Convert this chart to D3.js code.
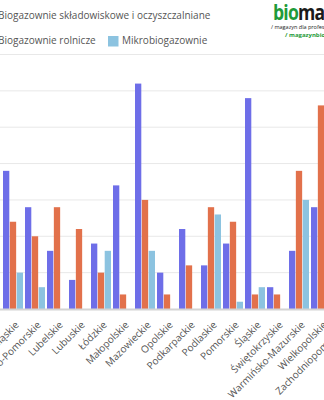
<!DOCTYPE html>
<html><head><meta charset="utf-8">
<script src="https://cdn.jsdelivr.net/npm/d3@7"></script>
<style>body{margin:0;background:#fff;overflow:hidden}svg{display:block;font-family:"Open Sans",sans-serif}</style>
</head><body>
<script>
const categories = ["Dolnośląskie","Kujawsko-Pomorskie","Lubelskie","Lubuskie","Łódzkie","Małopolskie","Mazowieckie","Opolskie","Podkarpackie","Podlaskie","Pomorskie","Śląskie","Świętokrzyskie","Warmińsko-Mazurskie","Wielkopolskie","Zachodniopomorskie"];
const seriesNames = ["Biogazownie składowiskowe i oczyszczalniane","Biogazownie rolnicze","Mikrobiogazownie"];
const skladowiskowe = [19,14,8,4,9,17,31,5,11,6,9,29,3,8,14,10];
const rolnicze      = [12,10,14,11,5,2,15,2,6,14,12,2,2,19,28,33];
const mikro         = [5,3,0,0,8,0,8,0,0,13,1,3,0,15,20,4];
const yTicks = [0,5,10,15,20,25,30,35];
const colors = ["#6e6ee8","#e2714b","#8cc3e0"];

const W=324,H=400;
const svg=d3.select("body").append("svg").attr("width",W).attr("height",H);
const x0=d3.scaleBand().domain(categories).range([2,2+22*16]).paddingInner(2/22).paddingOuter(1/22);
const x1=d3.scaleBand().domain([0,1,2]).range([0,x0.bandwidth()]).paddingInner(0.08);
const y=d3.scaleLinear().domain([0,35]).range([309,54.5]);

// gridlines
svg.append("g").selectAll("line").data(yTicks.slice(1)).join("line")
  .attr("x1",-40).attr("x2",W+40).attr("y1",d=>y(d)).attr("y2",d=>y(d))
  .attr("stroke","#e8e8e8").attr("stroke-width",1);

const data=[skladowiskowe,rolnicze,mikro];
const g=svg.append("g").selectAll("g").data(categories).join("g")
  .attr("transform",d=>`translate(${x0(d)},0)`);
g.selectAll("rect").data((c,i)=>data.map((s,k)=>({k,v:s[i]}))).join("rect")
  .attr("x",d=>x1(d.k)).attr("width",x1.bandwidth())
  .attr("y",d=>y(d.v)).attr("height",d=>y(0)-y(d.v))
  .attr("fill",d=>colors[d.k]);

// baseline + category labels
const xAxis=d3.axisBottom(x0).tickSize(0).tickPadding(0);
const ax=svg.append("g").attr("transform",`translate(0,${y(0)})`).call(xAxis);
ax.select(".domain").attr("stroke","#d4d4d4").attr("stroke-width",2).attr("d",`M-40,0.5H${W+40}`);
ax.selectAll("text").attr("font-size",10).attr("fill","#555").attr("font-family","Open Sans")
  .attr("text-anchor","end").attr("dy","0.35em")
  .attr("transform","translate(4,14) rotate(-45)");

// legend
const leg=[{k:0,x:-16,y:19},{k:1,x:-16,y:44},{k:2,x:108,y:44}];
const lg=svg.append("g").selectAll("g").data(leg).join("g").attr("transform",d=>`translate(${d.x},${d.y})`);
lg.append("rect").attr("width",10.5).attr("height",10.5).attr("y",-8).attr("fill",d=>colors[d.k]);
lg.append("text").attr("x",14).attr("y",0).attr("font-size",10).attr("fill","#555").text(d=>seriesNames[d.k]);

// logo
const logo=svg.append("g");
const lt=logo.append("text").attr("transform","translate(273,20) scale(0.8,1)").attr("font-size",22).attr("font-weight","bold").attr("font-family","Open Sans").attr("letter-spacing","-1");
lt.append("tspan").attr("fill","#1f9b3a").text("bio");
lt.append("tspan").attr("fill","#1a1a1a").text("masa");
logo.append("text").attr("x",271).attr("y",29).attr("font-size",5.5).attr("fill","#222").text("/ magazyn dla profesjonalistów");
logo.append("text").attr("x",285).attr("y",37).attr("font-size",6).attr("fill","#1f9b3a").attr("font-weight","bold").text("/ magazynbiomasa.pl");
</script>
</body></html>
